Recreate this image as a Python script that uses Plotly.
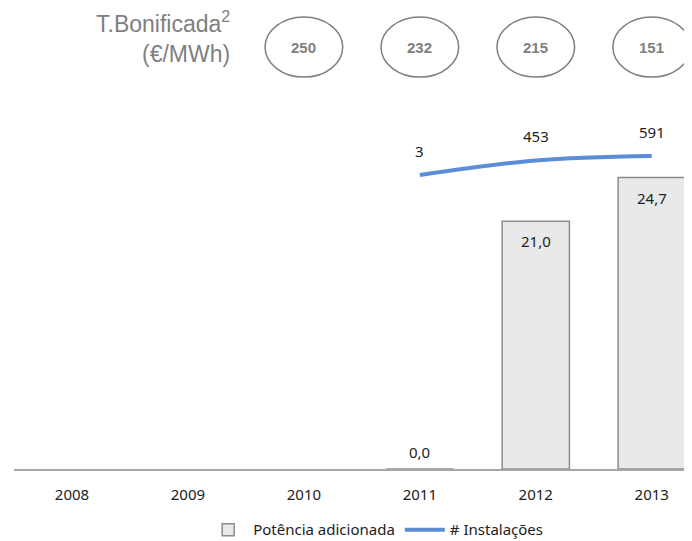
import plotly.graph_objects as go

years = ["2008", "2009", "2010", "2011", "2012", "2013"]
potencia = [None, None, None, 0.0, 21.0, 24.7]
inst_years = ["2011", "2012", "2013"]
instalacoes = [3, 453, 591]
tarifa_years = ["2010", "2011", "2012", "2013"]
tarifa = [250, 232, 215, 151]

GREY_TXT = "#808080"
BAR_FILL = "#e9e9e9"
BAR_LINE = "#8c8c8c"
LINE_BLUE = "#5b8ed6"
FONT = "Noto Sans, Open Sans, sans-serif"
HEAD_FONT = "Liberation Sans, Arial, sans-serif"
LBL = 15

fig = go.Figure()

fig.add_trace(
    go.Bar(
        x=years,
        y=potencia,
        name="Potência adicionada",
        width=0.58,
        marker=dict(
            color=BAR_FILL,
            line=dict(color=BAR_LINE, width=1.5)
        )
    )
)

fig.add_trace(
    go.Scatter(
        x=inst_years,
        y=instalacoes,
        mode="lines",
        name="# Instalações",
        yaxis="y2",
        line=dict(color=LINE_BLUE, width=4, shape="spline"),
    )
)

# bar labels (x as category index, since the years look numeric)
for yr, v in zip(years, potencia):
    if v is None:
        continue
    fig.add_annotation(
        x=years.index(yr), y=v, xref="x", yref="y",
        text=f"{v:.1f}".replace(".", ","),
        showarrow=False, yanchor="middle",
        yshift=-20 if v > 1 else 17,
        font=dict(size=LBL, color="#222222", family=FONT)
    )

# line labels
for yr, v in zip(inst_years, instalacoes):
    fig.add_annotation(
        x=years.index(yr), y=v, xref="x", yref="y2",
        text=str(v),
        showarrow=False, yanchor="middle",
        yshift=24,
        font=dict(size=LBL, color="#222222", family=FONT)
    )

# tariff ellipses
for yr, t in zip(tarifa_years, tarifa):
    i = years.index(yr)
    fig.add_shape(
        type="circle", xref="x", yref="paper",
        x0=i - 0.335, x1=i + 0.335, y0=1.062, y1=1.225,
        line=dict(color=GREY_TXT, width=1.5),
        fillcolor="white"
    )
    fig.add_annotation(
        x=i, y=1.1436, xref="x", yref="paper",
        text=f"<b>{t}</b>", showarrow=False,
        xanchor="center", yanchor="middle",
        font=dict(size=15, color=GREY_TXT, family=HEAD_FONT)
    )

fig.add_annotation(
    x=0.3225, y=1.211, xref="paper", yref="paper",
    xanchor="right", yanchor="middle",
    text="T.Bonificada<sup>2</sup>", showarrow=False,
    font=dict(size=23, color=GREY_TXT, family=HEAD_FONT)
)
fig.add_annotation(
    x=0.3225, y=1.125, xref="paper", yref="paper",
    xanchor="right", yanchor="middle",
    text="(€/MWh)", showarrow=False,
    font=dict(size=23, color=GREY_TXT, family=HEAD_FONT)
)

# page body has an 8px margin, so the figure is shrunk by 8px to fit the window
fig.update_layout(
    width=684,
    height=533,
    margin=dict(l=6, r=2, t=92, b=72, autoexpand=False),
    plot_bgcolor="white",
    paper_bgcolor="white",
    font=dict(family=FONT, size=LBL, color="#222222"),
    showlegend=True,
    legend=dict(
        orientation="h",
        x=0.535, xanchor="center",
        y=-0.165, yanchor="middle",
        font=dict(size=LBL, color="#222222"),
        itemwidth=40,
        tracegroupgap=0
    ),
    xaxis=dict(
        type="category",
        range=[-0.5, 5.33],
        showline=True,
        linecolor="#a6a6a6",
        linewidth=1.5,
        showgrid=False,
        ticks="outside",
        ticklen=11,
        tickcolor="rgba(0,0,0,0)",
        tickfont=dict(size=LBL, color="#222222")
    ),
    yaxis=dict(
        range=[0, 31.27],
        visible=False,
        showgrid=False,
        zeroline=False
    ),
    yaxis2=dict(
        range=[-9099, 2325],
        overlaying="y",
        side="right",
        visible=False,
        showgrid=False,
        zeroline=False
    ),
    bargap=0.42
)

fig.write_html("out.html")
